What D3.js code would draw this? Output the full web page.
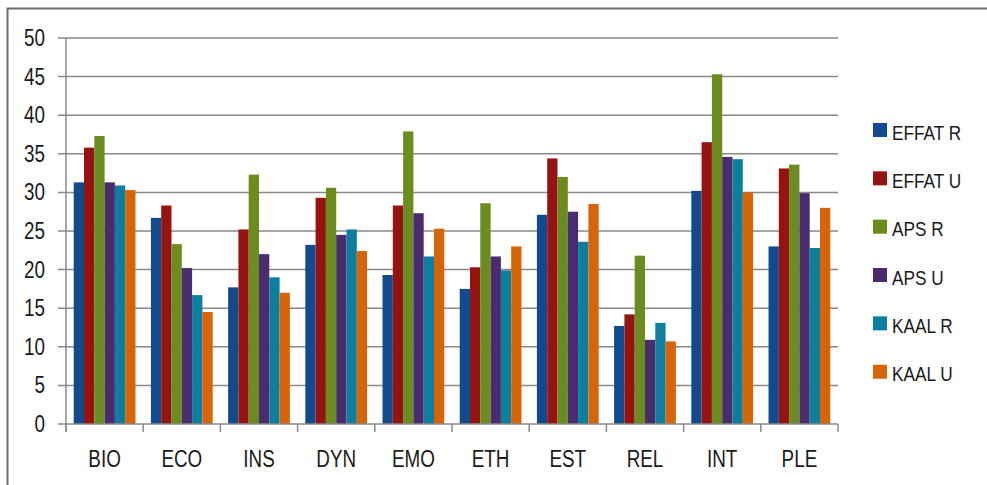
<!DOCTYPE html>
<html>
<head>
<meta charset="utf-8">
<script src="https://cdn.jsdelivr.net/npm/d3@7"></script>
<style>
  html, body { margin: 0; padding: 0; background: #fff; }
  svg { display: block; }
  text { font-family: "Liberation Sans", Arial, sans-serif; fill: #1a1a1a; }
</style>
</head>
<body>
<svg id="chart" width="987" height="485"></svg>
<script>
const categories = ["BIO", "ECO", "INS", "DYN", "EMO", "ETH", "EST", "REL", "INT", "PLE"];
const seriesNames = ["EFFAT R", "EFFAT U", "APS R", "APS U", "KAAL R", "KAAL U"];
const seriesColors = ["#114b8e", "#951311", "#6b8c1f", "#4a2b6e", "#0c7f9e", "#d76406"];
const effatR = [31.3, 26.7, 17.7, 23.2, 19.3, 17.5, 27.1, 12.7, 30.2, 23.0];
const effatU = [35.8, 28.3, 25.2, 29.3, 28.3, 20.3, 34.4, 14.2, 36.5, 33.1];
const apsR   = [37.3, 23.3, 32.3, 30.6, 37.9, 28.6, 32.0, 21.8, 45.3, 33.6];
const apsU   = [31.3, 20.2, 22.0, 24.5, 27.3, 21.7, 27.5, 10.9, 34.6, 29.9];
const kaalR  = [30.9, 16.7, 19.0, 25.2, 21.7, 19.9, 23.6, 13.1, 34.3, 22.8];
const kaalU  = [30.3, 14.5, 17.0, 22.4, 25.3, 23.0, 28.5, 10.7, 30.0, 28.0];
const yTicks = [0, 5, 10, 15, 20, 25, 30, 35, 40, 45, 50];

(function () {
const seriesValues = [effatR, effatU, apsR, apsU, kaalR, kaalU];
const rows = categories.map((c, i) => ({
  cat: c,
  vals: seriesNames.map((s, j) => ({ key: s, value: seriesValues[j][i], color: seriesColors[j] }))
}));

const svg = d3.select("#chart");
const mLeft = 66, mRight = 838, mTop = 38, mBottom = 424;
const sx = 0.82;

svg.append("rect").attr("width", 987).attr("height", 485).attr("fill", "#fff");

// outer frame (top & left visible)
svg.append("path")
  .attr("d", "M7.5,485 V8.5 H987")
  .attr("fill", "none").attr("stroke", "#6e6e6e").attr("stroke-width", 2);

const y = d3.scaleLinear().domain([0, 50]).range([mBottom, mTop]);
const x0 = d3.scaleBand().domain(categories).range([mLeft, mRight]).paddingInner(0).paddingOuter(0);
const x1 = d3.scaleBand().domain(seriesNames).range([0, x0.bandwidth()]).paddingInner(0).paddingOuter(0.75);

// gridlines
svg.append("g").selectAll("line").data(yTicks.filter(t => t > 0)).join("line")
  .attr("x1", mLeft - 8).attr("x2", mRight)
  .attr("y1", d => y(d)).attr("y2", d => y(d))
  .attr("stroke", "#8a8a8a").attr("stroke-width", 1.5);

// bars
const g = svg.append("g").selectAll("g").data(rows).join("g")
  .attr("transform", d => `translate(${x0(d.cat)},0)`);
g.selectAll("rect").data(d => d.vals).join("rect")
  .attr("x", d => x1(d.key))
  .attr("width", x1.bandwidth())
  .attr("y", d => y(d.value))
  .attr("height", d => y(0) - y(d.value))
  .attr("fill", d => d.color);

// axes lines
svg.append("line").attr("x1", mLeft).attr("x2", mLeft).attr("y1", mTop).attr("y2", mBottom + 8)
  .attr("stroke", "#8a8a8a").attr("stroke-width", 1.5);
svg.append("line").attr("x1", mLeft - 8).attr("x2", mRight).attr("y1", mBottom).attr("y2", mBottom)
  .attr("stroke", "#8a8a8a").attr("stroke-width", 1.5);
const bounds = categories.map(c => x0(c)).concat([mRight]);
svg.append("g").selectAll("line").data(bounds).join("line")
  .attr("x1", d => d).attr("x2", d => d).attr("y1", mBottom).attr("y2", mBottom + 8)
  .attr("stroke", "#8a8a8a").attr("stroke-width", 1.5);

// y tick labels
svg.append("g").selectAll("text").data(yTicks).join("text")
  .attr("transform", d => `translate(45,${y(d) + 8}) scale(${sx},1)`)
  .attr("text-anchor", "end")
  .attr("font-size", 23)
  .text(d => d);

// category labels
svg.append("g").selectAll("text").data(categories).join("text")
  .attr("transform", d => `translate(${x0(d) + x0.bandwidth() / 2},467) scale(${sx},1)`)
  .attr("text-anchor", "middle")
  .attr("font-size", 23)
  .text(d => d);

// legend
const ly = d3.scalePoint().domain(seriesNames).range([130, 371.7]);
const lg = svg.append("g").selectAll("g").data(seriesNames).join("g")
  .attr("transform", d => `translate(873,${ly(d)})`);
lg.append("rect").attr("x", 0).attr("y", -7).attr("width", 14).attr("height", 14)
  .attr("fill", (d, i) => seriesColors[i]);
lg.append("text")
  .attr("transform", `translate(19,9.5) scale(${sx},1)`)
  .attr("font-size", 21)
  .text(d => d);
})();
</script>
</body>
</html>
